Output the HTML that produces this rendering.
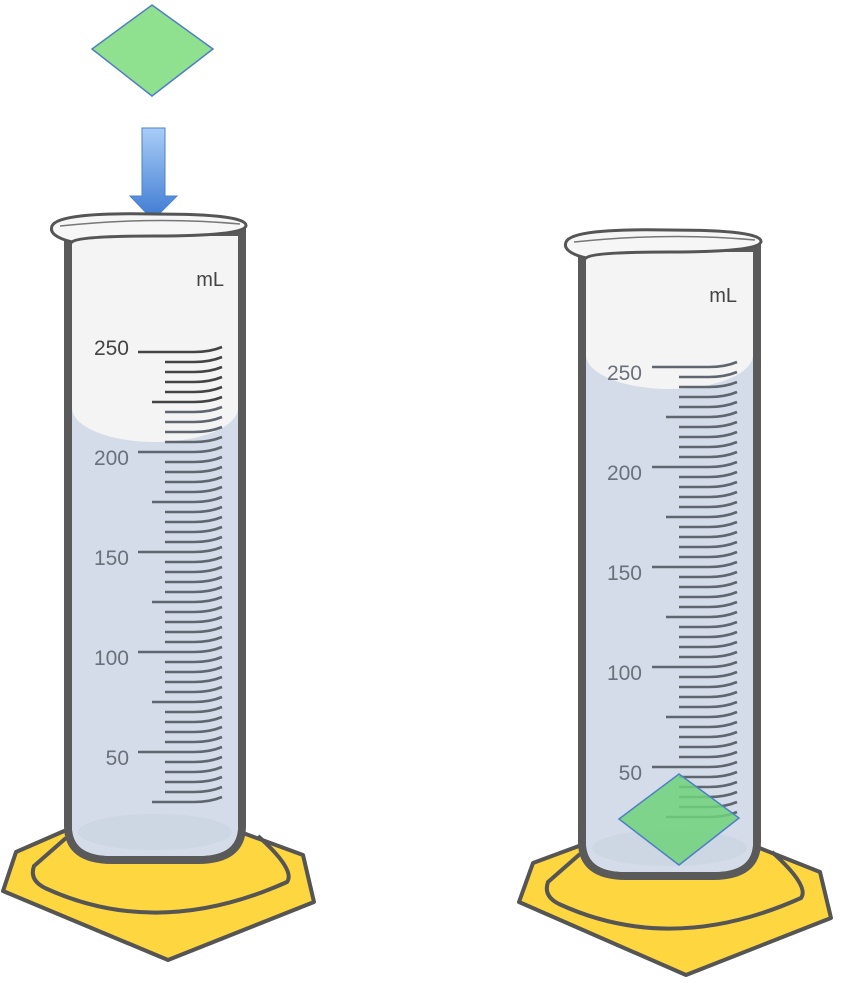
<!DOCTYPE html>
<html><head><meta charset="utf-8"><style>
html,body{margin:0;padding:0;background:#fff;width:851px;height:983px;overflow:hidden}
svg{display:block}
text{font-family:"Liberation Sans",sans-serif}
</style></head><body>
<svg id="s" width="851" height="983" viewBox="0 0 851 983">
<defs>
<linearGradient id="arrowG" x1="0" y1="0" x2="0" y2="1"><stop offset="0" stop-color="#a9cdf7"/><stop offset="1" stop-color="#3d7ad2"/></linearGradient>
</defs>
<g>
<polygon points="152,5 213,49 152,96 92,49" fill="#8fe08f" stroke="#4f7fc4" stroke-width="1.5"/>
</g>
<g>
<polygon points="142,128 165,128 165,196 177,196 153,220 130,196 142,196" fill="url(#arrowG)" stroke="#4a82cc" stroke-width="1"/>
</g>
<g id="cyls"></g>
</svg>
<script>
const scaleLabels = [250, 200, 150, 100, 50];
const tickValues = [];
for (let v = 250; v >= 25; v -= 5) tickValues.push(v);
const liquidLevels = [222, 256];

const NS = 'http://www.w3.org/2000/svg';
function el(tag, attrs, parent) {
  const e = document.createElementNS(NS, tag);
  for (const k in attrs) e.setAttribute(k, attrs[k]);
  parent.appendChild(e);
  return e;
}
const root = document.getElementById('cyls');
const cyls = [
  {x0: 68, x1: 242, rimY: 222, botY: 860, y250: 352, tMaj: 138, tMin: 165, tEnd: 222, lblX: 129, mlX: 224, mlY: 286,
   base: '3,891 16,852 71,828 243,833 303,855 314,902 168,960', name: 'left'},
  {x0: 582, x1: 757, rimY: 238, botY: 876, y250: 367, tMaj: 652, tMin: 679, tEnd: 737, lblX: 642, mlX: 737, mlY: 302,
   base: '519,902 533,863 587,843 757,847 820,872 831,918 686,975', name: 'right'}
];
cyls.forEach((c, ci) => {
  const g = el('g', {}, root);
  
  
  const cx = (c.x0 + c.x1) / 2;
  const yOf = v => c.y250 + (250 - v) * 2;
  const dx = c.x0 - 68, dy = c.botY - 860;
  // base
  const b = el('polygon', {points: c.base, fill: '#fdd640', stroke: '#555', 'stroke-width': 4, 'stroke-linejoin': 'round'}, g);
  
  
  el('path', {d: `M${66+dx},${838+dy} L${34+dx},${866+dy} Q${29+dx},${880+dy} ${45+dx},${888+dy} Q${158+dx},${940+dy} ${287+dx},${882+dy} Q${296+dx},${870+dy} ${258+dx},${836+dy}`, fill: 'none', stroke: '#555', 'stroke-width': 4}, g);
  // body
  const r = 34;
  const bodyD = `M${c.x0},${c.rimY+10} L${c.x0},${c.botY-r} Q${c.x0},${c.botY} ${c.x0+r+10},${c.botY} L${c.x1-r-10},${c.botY} Q${c.x1},${c.botY} ${c.x1},${c.botY-r} L${c.x1},${c.rimY+10} Z`;
  el('path', {d: bodyD, fill: '#f4f4f4', stroke: '#5a5a5a', 'stroke-width': 8}, g);
  // liquid
  const ly = yOf(liquidLevels[ci]);
  const liq = el('path', {d: `M${c.x0+4},${ly} L${c.x0+4},${c.botY-r} Q${c.x0+4},${c.botY-4} ${c.x0+r+10},${c.botY-4} L${c.x1-r-10},${c.botY-4} Q${c.x1-4},${c.botY-4} ${c.x1-4},${c.botY-r} L${c.x1-4},${ly} Z`, fill: '#d3dce8'}, g);
  
  
  el('ellipse', {cx: cx, cy: ly, rx: (c.x1 - c.x0) / 2 - 4, ry: 34, fill: '#f4f4f4'}, g);
  el('ellipse', {cx: cx, cy: c.botY - 28, rx: (c.x1 - c.x0) / 2 - 10, ry: 18, fill: '#c9d2df', opacity: 0.6}, g);
  // rim
  el('path', {d: `M${c.x0+4},${c.rimY+20} Q${c.x0-20},${c.rimY+14} ${c.x0-16},${c.rimY+4} Q${c.x0-10},${c.rimY-10} ${cx},${c.rimY-8} Q${c.x1+6},${c.rimY-8} ${c.x1+4},${c.rimY+4} Q${c.x1},${c.rimY+14} ${cx},${c.rimY+14} Q${c.x0+10},${c.rimY+14} ${c.x0+4},${c.rimY+20}Z`, fill: '#f6f6f6', stroke: '#555', 'stroke-width': 3}, g);
  el('path', {d: `M${c.x0-8},${c.rimY+4} Q${cx},${c.rimY-6} ${c.x1-2},${c.rimY+2}`, fill: 'none', stroke: '#777', 'stroke-width': 1.5}, g);
  // ticks
  tickValues.forEach(v => {
    const y = yOf(v);
    const major = v % 50 === 0, mid = v % 25 === 0;
    const xs = major ? c.tMaj : (mid ? c.tMin - 13 : c.tMin);
    const t = el('path', {d: `M${xs},${y} L${c.tEnd - 28},${y} Q${c.tEnd - 12},${y} ${c.tEnd},${y - 5}`, fill: 'none', stroke: v > liquidLevels[ci] ? '#444' : '#5f6670', 'stroke-width': 2.6}, g);
    
    
  });
  scaleLabels.forEach(v => {
    const off = (v > liquidLevels[ci]) ? 3 : 13;
    const t = el('text', {x: c.lblX, y: yOf(v) + off, 'font-size': 21, 'text-anchor': 'end', fill: v > liquidLevels[ci] ? '#444' : '#6a717c'}, g);
    t.textContent = v;
    
    
  });
  const ml = el('text', {x: c.mlX, y: c.mlY, 'font-size': 20, 'text-anchor': 'end', fill: '#444'}, g);
  ml.textContent = 'mL';
  
  
});
const d2 = el('polygon', {points: '679,774 739,818 679,865 619,819', fill: '#6fd27a', 'fill-opacity': 0.85, stroke: '#4f7fc4', 'stroke-width': 1.5}, root);


</script>
</body></html>
